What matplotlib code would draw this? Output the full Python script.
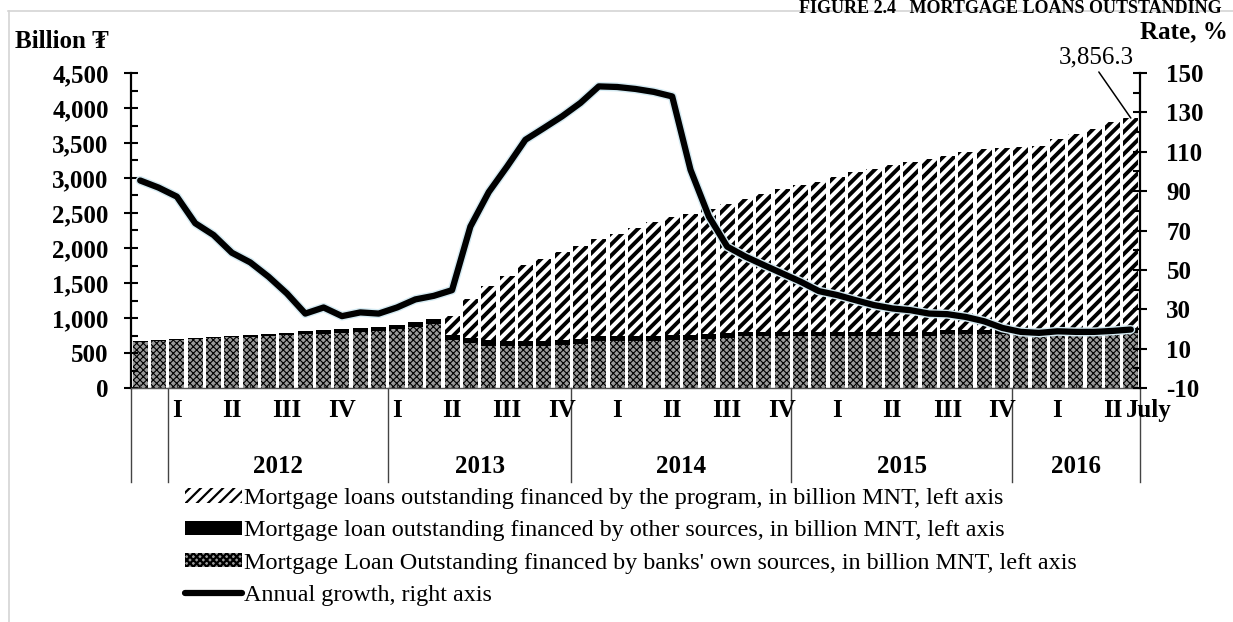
import numpy as np
import matplotlib.pyplot as plt
import matplotlib.patheffects as pe
import matplotlib.transforms as mtransforms
from matplotlib.ticker import MultipleLocator, FuncFormatter
from matplotlib.lines import Line2D
from matplotlib.patches import Patch

plt.rcParams['font.family'] = ['Liberation Serif', 'DejaVu Serif']
plt.rcParams['axes.unicode_minus'] = False

# billion MNT, monthly, Nov 2011 .. July 2016
banks = [663, 677, 691, 703, 715, 725, 730, 749, 763, 768, 768, 787, 797, 811, 844, 872, 911,
         682, 644, 606, 596, 596, 606, 620, 630, 668, 668, 668, 673, 682, 688, 706, 720, 739,
         739, 739, 739, 739, 739, 739, 739, 739, 739, 739, 768, 768, 768,
         775, 780, 785, 785, 790, 790, 790, 790]
other = [5, 5, 5, 8, 10, 12, 24, 24, 29, 43, 62, 62, 62, 62, 62, 72, 76,
         72, 72, 76, 72, 72, 67, 72, 71, 71, 71, 71, 67, 72, 67, 67, 67, 62,
         67, 67, 67, 67, 67, 67, 67, 67, 67, 67, 67, 67, 67,
         60, 55, 55, 55, 55, 55, 55, 55]
program = [0] * 17 + [276, 558, 778, 939, 1083, 1163, 1245, 1321, 1384, 1460, 1541, 1626, 1688,
                      1735, 1779, 1837, 1899, 1961, 2042, 2089, 2142, 2209, 2275, 2323, 2385,
                      2423, 2466, 2485, 2533, 2576, 2595, 2604, 2613, 2723, 2785, 2861, 2952, 3011.3]
growth = [95.4, 91.8, 87.2, 73.7, 67.7, 58.7, 53.8, 46.5, 38.0, 27.8, 30.9, 26.5, 28.4, 27.8,
          30.9, 35.0, 36.8, 39.7, 72.0, 89.5, 102.5, 116.1, 122.0, 128.0, 134.8, 143.2, 142.9,
          141.9, 140.4, 138.1, 100.8, 77.1, 61.8, 56.7, 52.4, 48.2, 44.0, 39.2, 37.2, 34.6,
          32.1, 30.4, 29.5, 27.8, 27.5, 26.1, 23.9, 20.5, 18.5, 18.0, 18.8, 18.5, 18.5, 19.0, 19.7]

year_labels = ['', '2012', '2013', '2014', '2015', '2016']
year_sizes = [2, 12, 10, 12, 12, 7]
quarter_labels = ['I', 'II', 'III', 'IV', 'I', 'II', 'III', 'IV', 'I', 'II', 'III', 'IV',
                  'I', 'II', 'III', 'IV', 'I', 'II', 'July']
quarter_bars = [2, 5, 8, 11, 14, 17, 20, 23, 26, 29, 32, 35, 38, 41, 44, 47, 50, 53, 54]

legend_labels = [
    'Mortgage loans outstanding financed by the program, in billion MNT, left axis',
    'Mortgage loan outstanding financed by other sources, in billion MNT, left axis',
    "Mortgage Loan Outstanding financed by banks' own sources, in billion MNT, left axis",
    'Annual growth, right axis',
]

W, H = 1233, 622
fig = plt.figure(figsize=(W / 100, H / 100), dpi=100)
ax = fig.add_axes([131 / W, 1 - 388 / H, 1009 / W, 315 / H])

x = np.arange(len(banks))
b = np.array(banks, dtype=float)
o = np.array(other, dtype=float)
p = np.array(program, dtype=float)
bw = 0.82

check_face = '#9a9a9a'
with plt.rc_context({'hatch.linewidth': 0.8}):
    ax.bar(x, b, bw, facecolor=check_face, edgecolor='#000000', hatch='xxxxx', linewidth=0)
ax.bar(x, o, bw, bottom=b, color='black', linewidth=0)
with plt.rc_context({'hatch.linewidth': 2.8}):
    ax.bar(x, p, bw, bottom=b + o, facecolor='white', edgecolor='black', hatch='///', linewidth=0)

ax.set_xlim(-0.5, len(banks) - 0.5)
ax.set_ylim(0, 4500)
ax.yaxis.set_major_locator(MultipleLocator(500))
ax.yaxis.set_minor_locator(MultipleLocator(250))
ax.yaxis.set_major_formatter(FuncFormatter(lambda v, _: f'{v:,.0f}'))
ax.tick_params(axis='y', which='major', direction='inout', length=10, width=1.5, pad=11,
               labelsize=18)
ax.tick_params(axis='y', which='minor', direction='in', length=5, width=1.5)
ax.set_xticks(x)
ax.set_xticklabels([])
ax.tick_params(axis='x', direction='in', length=3, width=0.8, color='#333333')
for lab in ax.get_yticklabels():
    lab.set_fontweight('bold')

for s in ['top', 'right']:
    ax.spines[s].set_visible(False)
ax.spines['left'].set_linewidth(1.6)
ax.spines['bottom'].set_linewidth(1.0)
ax.spines['bottom'].set_color('#555555')

ax2 = ax.twinx()
ax2.set_ylim(-10, 150)
ax2.set_yticks(np.arange(-10, 151, 20))
ax2.yaxis.set_minor_locator(MultipleLocator(10))
ax2.tick_params(axis='y', which='major', direction='inout', length=10, width=1.5, pad=14,
                labelsize=18)
ax2.tick_params(axis='y', which='minor', direction='in', length=5, width=1.5)
for lab in ax2.get_yticklabels():
    lab.set_fontweight('bold')
for s in ['top', 'left', 'bottom']:
    ax2.spines[s].set_visible(False)
ax2.spines['right'].set_linewidth(1.6)

ax2.plot(x, growth, color='black', lw=4.5, solid_capstyle='round', solid_joinstyle='round',
         path_effects=[pe.Stroke(linewidth=6.5, foreground='#d4eaf2'), pe.Normal()])

total = b[-1] + o[-1] + p[-1]
ax2.annotate(f'{total:,.1f}', xy=(x[-1], -10 + total / 4500 * 160), xycoords='data',
             xytext=(-25, 36), textcoords='offset points', ha='center', va='bottom',
             fontsize=18,
             arrowprops=dict(arrowstyle='-', color='black', lw=1.1, shrinkA=1, shrinkB=0,
                             relpos=(0.5, 0.0)))

# multi-level category axis
trans = mtransforms.blended_transform_factory(ax.transData, ax.transAxes)
edges = np.concatenate([[0], np.cumsum(year_sizes)]) - 0.5
for e in edges:
    ax.plot([e, e], [0, -0.297], transform=trans, color='#444444', lw=1.0, clip_on=False)
for lab, lo, hi in zip(year_labels, edges[:-1], edges[1:]):
    ax.text((lo + hi) / 2, -0.25, lab, transform=trans, ha='center', va='center',
            fontsize=18, fontweight='bold')
for lab, i in zip(quarter_labels, quarter_bars):
    if lab == 'July':
        ax.text(i - 0.25, -0.07, lab, transform=trans, ha='left', va='center',
                fontsize=18, fontweight='bold')
    else:
        ax.text(i, -0.07, lab, transform=trans, ha='center', va='center',
                fontsize=18, fontweight='bold')

# axis titles
fig.text(15 / W, 1 - 41 / H, 'Billion ₮', fontsize=18, fontweight='bold', va='center', ha='left')
fig.text(1228 / W, 1 - 32 / H, 'Rate, %', fontsize=18, fontweight='bold', va='center', ha='right')
fig.text(1222 / W, 1.0, 'FIGURE 2.4   MORTGAGE LOANS OUTSTANDING', fontsize=13,
         fontweight='bold', va='top', ha='right')

# frame lines of the page
fig.add_artist(Line2D([8 / W, 1], [1 - 10.5 / H] * 2, color='#d4d4d4', lw=1.2,
                      transform=fig.transFigure))
fig.add_artist(Line2D([8.5 / W] * 2, [0, 1 - 10.5 / H], color='#d4d4d4', lw=1.2,
                      transform=fig.transFigure))

handles = [
    Patch(facecolor='white', edgecolor='black', hatch='///', linewidth=0),
    Patch(facecolor='black', edgecolor='black', linewidth=0),
    Patch(facecolor=check_face, edgecolor='#000000', hatch='xxxxx', linewidth=0),
    Line2D([], [], color='black', lw=4.5, solid_capstyle='round'),
]
with plt.rc_context({'hatch.linewidth': 1.6}):
    fig.legend(handles, legend_labels, loc='upper left', bbox_to_anchor=(185 / W, 1 - 488 / H),
               frameon=False, fontsize=17.4, handlelength=2.35, handleheight=0.55,
               handletextpad=0.1, labelspacing=0.47, borderpad=0, borderaxespad=0)

fig.savefig('out.png', dpi=100)
